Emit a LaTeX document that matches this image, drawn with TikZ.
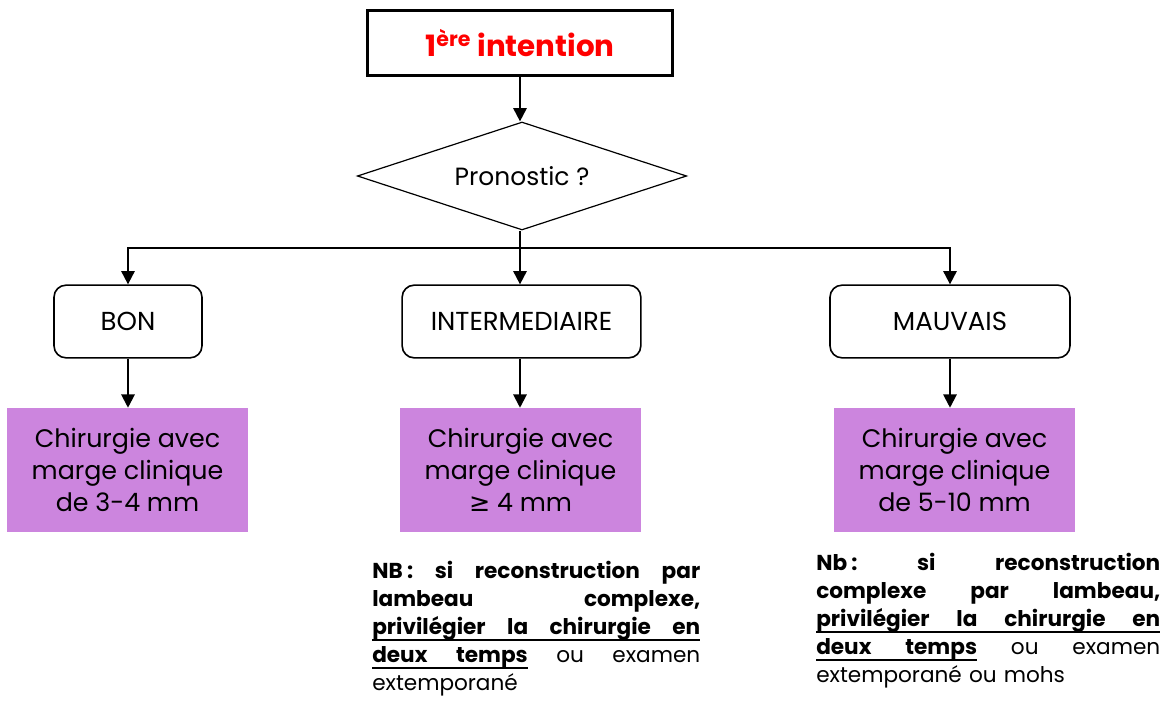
\documentclass[tikz,border=0pt]{standalone}
\usepackage{fontspec}
\setmainfont{Poppins}
\newfontfamily\symfont{DejaVu Sans}
\usepackage{tikz}
\usetikzlibrary{arrows.meta}
\usetikzlibrary{shapes.geometric}
\usetikzlibrary{positioning}
\definecolor{mauve}{RGB}{204,133,222}
% justified note lines
\newcommand{\nbline}[1]{\leavevmode\hbox to \linewidth{#1}}
\newcommand{\nbgap}{\hskip 0.3em plus 1fil\relax}
\newcommand{\ulgap}{\leaders\hrule height -3.2pt depth 5pt\hskip 0.3em plus 1fil\relax}
\newcommand{\ulword}[1]{\setbox0\hbox{#1}\rlap{\vrule height -3.2pt depth 5pt width \wd0}\box0}
\tikzstyle{titlebox}=[draw,line width=2.6pt,minimum width=229pt,minimum height=49pt,font=\fontsize{22}{26}\selectfont\bfseries,text=red]
\tikzstyle{question}=[draw,diamond,line width=0.9pt,aspect=3.05,minimum width=247pt,minimum height=81pt,inner sep=0pt,font=\fontsize{18.7}{22}\selectfont]
\tikzstyle{choice}=[draw,rounded corners=9pt,line width=1.2pt,minimum height=54.5pt,font=\fontsize{19.5}{23}\selectfont]
\tikzstyle{action}=[fill=mauve,minimum width=180.5pt,minimum height=93pt,align=center,font=\fontsize{19}{24}\selectfont]
\tikzstyle{note}=[anchor=north west,inner sep=0pt,align=left,font=\fontsize{16.2}{21}\selectfont]
\tikzstyle{edge}=[draw,line width=1.5pt,-{Triangle[width=10pt,length=10pt]}]

\begin{document}
\begin{tikzpicture}[x=0.75pt,y=-0.75pt]
		\useasboundingbox (0,0) rectangle (1167,706);
		\node[titlebox] (intent) at (520,43) {1\textsuperscript{ère} intention};
		\node[question] (prono) at (522,176) {Pronostic ?};
		\coordinate (split) at (520,248);
		
		\node[choice,minimum width=111pt] (bon) at (128,321.5) {BON};
		\node[choice,minimum width=179pt] (inter) at (521.5,321.5) {INTERMEDIAIRE};
		\node[choice,minimum width=180pt] (mauvais) at (950,321.5) {MAUVAIS};
		
		\node[action] (marge1) at (127.5,470) {Chirurgie avec\\marge clinique\\de 3-4 mm};
		\node[action] (marge2) at (520.5,470) {Chirurgie avec\\marge clinique\\{\symfont ≥} 4 mm};
		\node[action] (marge3) at (954.5,470) {Chirurgie avec\\marge clinique\\de 5-10 mm};
		
		\node[note,text width=246pt] (nb2) at (372,561) {\noindent
			\nbline{\bfseries NB\hspace{0.2em}:\nbgap si\nbgap reconstruction\nbgap par}\\
			\nbline{\bfseries lambeau\nbgap complexe,}\\
			\nbline{\bfseries \ulword{privilégier}\ulgap\ulword{la}\ulgap\ulword{chirurgie}\ulgap\ulword{en}}\\
			\nbline{\ulword{\bfseries deux}\ulgap\ulword{\bfseries temps}\nbgap ou\nbgap examen}\\
			extemporané};
		\node[note,text width=258pt] (nb3) at (816,553) {\noindent
			\nbline{\bfseries Nb\hspace{0.2em}:\nbgap si\nbgap reconstruction}\\
			\nbline{\bfseries complexe\nbgap par\nbgap lambeau,}\\
			\nbline{\bfseries \ulword{privilégier}\ulgap\ulword{la}\ulgap\ulword{chirurgie}\ulgap\ulword{en}}\\
			\nbline{\ulword{\bfseries deux}\ulgap\ulword{\bfseries temps}\nbgap ou\nbgap examen}\\
			extemporané ou mohs};
		
		\draw[edge] (intent) -- (intent.south |- prono.north);
		\draw[line width=1.5pt] (prono.south -| split) -- (split);
		\draw[edge] (split) -| (bon.north);
		\draw[edge] (split) -- (split |- inter.north);
		\draw[edge] (split) -| (mauvais.north);
		
		\draw[edge] (bon) -- (bon.south |- marge1.north);
		\draw[edge] (inter.south -| split) -- (split |- marge2.north);
		\draw[edge] (mauvais) -- (mauvais.south |- marge3.north);
		
		\end{tikzpicture}
\end{document}
